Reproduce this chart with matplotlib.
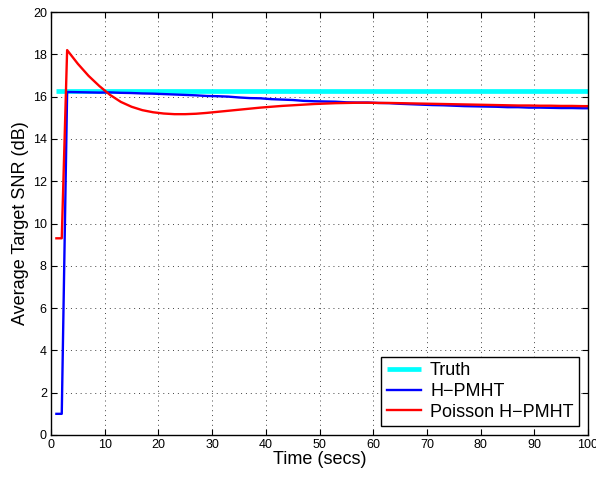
import matplotlib
matplotlib.use("Agg")
import matplotlib.pyplot as plt

plt.rcParams['font.family'] = ['Liberation Sans', 'DejaVu Sans']

truth_t = [1, 100]
truth_v = [16.25, 16.25]

t = [1, 2] + list(range(3, 101, 2)) + [100]

hpmht = [1.0, 1.0,
         16.22, 16.21, 16.20, 16.19, 16.20, 16.18, 16.17, 16.15, 16.14, 16.12,
         16.10, 16.08, 16.06, 16.03, 16.02, 16.00, 15.96, 15.93, 15.92, 15.88,
         15.86, 15.84, 15.80, 15.78, 15.77, 15.76, 15.73, 15.72, 15.72, 15.70,
         15.69, 15.66, 15.64, 15.62, 15.60, 15.59, 15.57, 15.55, 15.54, 15.53,
         15.52, 15.50, 15.50, 15.48, 15.48, 15.47, 15.46, 15.46, 15.45, 15.45]

poisson = [9.3, 9.3,
           18.2, 17.55, 16.98, 16.5, 16.08, 15.75, 15.52, 15.36, 15.26, 15.20,
           15.17, 15.17, 15.19, 15.23, 15.28, 15.33, 15.38, 15.43, 15.48, 15.52,
           15.56, 15.59, 15.62, 15.65, 15.67, 15.69, 15.70, 15.71, 15.71, 15.70,
           15.70, 15.69, 15.68, 15.67, 15.66, 15.65, 15.64, 15.63, 15.62, 15.61,
           15.60, 15.59, 15.58, 15.58, 15.57, 15.57, 15.56, 15.56, 15.55, 15.55]

labels = ["Truth", "H\u2212PMHT", "Poisson H\u2212PMHT"]

fig = plt.figure(figsize=(5.96, 4.79), dpi=100)
ax = fig.add_axes([0.0856, 0.0919, 0.901, 0.883])

ax.plot(truth_t, truth_v, color='#00ffff', lw=3.4, label=labels[0], solid_capstyle='butt')
ax.plot(t, hpmht, color='#0000ff', lw=1.7, label=labels[1])
ax.plot(t, poisson, color='#ff0000', lw=1.7, label=labels[2])

ax.set_xlim(0, 100)
ax.set_ylim(0, 20)
ax.set_xticks(range(0, 101, 10))
ax.set_yticks(range(0, 21, 2))
ax.grid(True, linestyle=(0, (1, 4)), color='#444444', linewidth=0.7)
ax.tick_params(direction='in', top=True, right=True, labelsize=9, length=4, pad=3)
for s in ax.spines.values():
    s.set_linewidth(1.0)
ax.set_xlabel("Time (secs)", fontsize=13, labelpad=0)
ax.set_ylabel("Average Target SNR (dB)", fontsize=13, labelpad=3)

leg = ax.legend(loc='lower right', fontsize=13, fancybox=False, framealpha=1,
                edgecolor='black', borderaxespad=0.5, handlelength=1.9,
                labelspacing=0.2, borderpad=0.3, handletextpad=0.5)
leg.get_frame().set_linewidth(1.0)

fig.savefig("out.png", dpi=100)
